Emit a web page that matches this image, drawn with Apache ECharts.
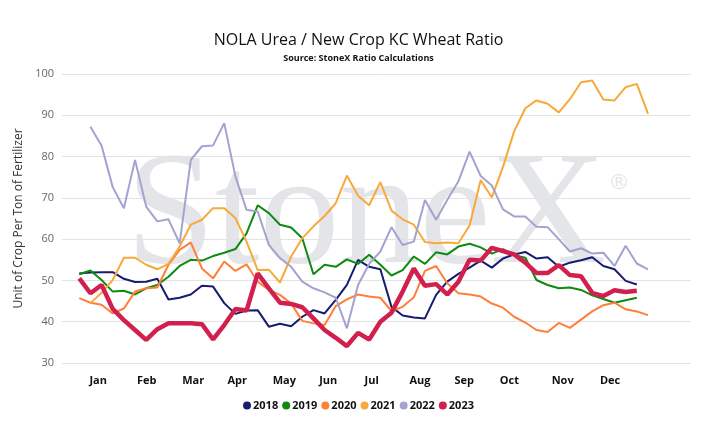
<!DOCTYPE html>
<html>
<head>
<meta charset="utf-8">
<script src="https://cdn.jsdelivr.net/npm/echarts@6.0.0/dist/echarts.min.js"></script>
<style>
  html, body { margin: 0; padding: 0; background: #fff; }
  #main { width: 717px; height: 430px; }
</style>
</head>
<body>
<div id="main"></div>
<script>
// weekly ratios, index = week slot on the shared x axis (null = no value that week)
const y2018 = [51.7, 51.9, 52.0, 52.0, 50.4, 49.6, 49.7, 50.4, 45.4, 45.8, 46.6, 48.7, 48.5, 44.5, 41.9, 42.7, 42.8, 38.8, 39.5, 38.9,
  41.2, 42.8, 42.0, 45.3, 48.9, 55.0, 53.3, 52.7, 43.6, 41.5, 41.0, 40.8, 46.5, 49.7, 51.6, 53.1, 54.8, 53.1, 55.3, 56.3,
  56.9, 55.3, 55.6, 53.3, 54.3, 54.9, 55.6, 53.5, 52.7, 49.9, 49.0];
const y2019 = [51.5, 52.4, 50.1, 47.3, 47.5, 46.6, 48.1, 48.9, 50.9, 53.5, 55.0, 54.8, 55.9, 56.7, 57.6, 61.4, 68.2, 66.3, 63.5, 62.8,
  60.2, 51.5, 53.8, 53.3, 55.1, 54.0, 56.2, 53.8, 51.2, 52.5, 55.8, 54.0, 56.8, 56.3, 58.2, 58.9, 58.0, 56.5, 57.6, 56.1,
  55.5, 50.1, 48.9, 48.1, 48.3, 47.7, 46.4, 45.5, 44.6, 45.2, 45.8];
const y2020 = [45.7, 44.6, 44.1, 42.0, 43.2, 47.3, 48.1, 48.3, 53.8, 57.4, 59.2, 52.9, 50.5, 54.6, 52.3, 53.9, 49.7, 47.7, 46.5, 44.4,
  40.2, 39.6, 39.2, 43.8, 45.4, 46.6, 46.1, 45.8, 42.6, 43.6, 45.9, 52.3, 53.5, 49.3, 46.9, 46.6, 46.1, 44.4, 43.4, 41.2,
  39.8, 38.0, 37.5, 39.7, 38.5, 40.5, 42.5, 44.0, 44.6, 43.0, 42.5, 41.6];
const y2021 = [null, 44.5, 47.0, 50.1, 55.5, 55.5, 53.8, 52.7, 54.0, 58.2, 63.5, 64.7, 67.5, 67.5, 65.1, 59.4, 52.5, 52.6, 49.5, 55.8,
  60.2, 63.1, 65.6, 68.7, 75.4, 70.5, 68.2, 73.8, 66.9, 64.8, 63.5, 59.3, 59.0, 59.2, 59.0, 63.3, 74.3, 70.1, 77.5, 86.1,
  91.7, 93.6, 92.8, 90.7, 93.9, 98.0, 98.4, 93.8, 93.6, 96.8, 97.6, 90.4];
const y2022 = [null, 87.2, 82.6, 72.6, 67.5, 79.2, 67.9, 64.3, 64.8, 59.0, 79.2, 82.5, 82.7, 88.1, 75.2, 67.1, 66.7, 58.6, 55.4, 53.3,
  49.7, 48.1, 47.1, 45.8, 38.4, 48.9, 54.0, 57.0, 62.9, 58.6, 59.4, 69.5, 64.7, 69.5, 74.0, 81.2, 75.3, 73.0, 67.2, 65.5,
  65.5, 63.0, 62.9, 60.0, 57.0, 57.8, 56.5, 56.7, 53.5, 58.4, 54.1, 52.7];
const y2023 = [50.5, 46.9, 48.9, 43.1, 40.4, 38.0, 35.6, 38.2, 39.6, 39.6, 39.6, 39.4, 35.7, 39.2, 43.1, 42.7, 51.7, 48.1, 44.6, 44.3,
  43.5, 40.8, 38.0, 36.1, 34.1, 37.3, 35.7, 40.0, 42.2, 47.3, 52.9, 48.7, 49.1, 46.6, 49.7, 55.0, 54.8, 57.9, 57.1, 56.3,
  54.3, 51.8, 51.8, 53.7, 51.3, 51.0, 47.0, 46.2, 47.6, 47.2, 47.5];

const years = ['2018', '2019', '2020', '2021', '2022', '2023'];
const months = ['Jan', 'Feb', 'Mar', 'Apr', 'May', 'Jun', 'Jul', 'Aug', 'Sep', 'Oct', 'Nov', 'Dec'];
// where each month label sits, in week slots
const monthWeeks = [1.70, 6.04, 10.22, 14.17, 18.39, 22.33, 26.22, 30.56, 34.53, 38.57, 43.35, 47.6];

const chart = echarts.init(document.getElementById('main'));
const colors = ['#161c6e', '#0e8a10', '#ff7f3a', '#f7aa3a', '#a2a4cf', '#d1204e'];
const allData = [y2018, y2019, y2020, y2021, y2022, y2023];

function pairs(arr) {
    let out = [];
    arr.forEach(function (v, i) {
        if (v !== null) out.push([i, v]);
    });
    return out;
}

let series = [];
years.forEach(function (name, k) {
    series.push({
        name: name,
        type: 'line',
        showSymbol: false,
        symbol: 'none',
        lineStyle: { width: k === 5 ? 4.5 : 2, color: colors[k] },
        itemStyle: { color: colors[k] },
        data: pairs(allData[k]),
        z: 2 + k
    });
});

const option = {
    color: colors,
    animation: false,
    textStyle: { fontFamily: 'Open Sans' },
    title: [
        {
            text: 'NOLA Urea / New Crop KC Wheat Ratio',
            left: 'center',
            top: 27,
            textStyle: { fontSize: 16, fontWeight: 'normal', color: '#111', fontFamily: 'Open Sans' }
        },
        {
            text: 'Source: StoneX Ratio Calculations',
            left: 'center',
            top: 49,
            textStyle: { fontSize: 9, fontWeight: 'bold', color: '#111', fontFamily: 'Open Sans' }
        }
    ],
    graphic: [
        {
            type: 'text',
            z: -10,
            silent: true,
            style: {
                x: 126, y: 220,
                text: 'StoneX',
                font: '160px "Liberation Serif"',
                fill: '#e4e5e9',
                verticalAlign: 'middle'
            }
        },
        {
            type: 'text',
            z: -10,
            silent: true,
            style: {
                x: 608, y: 183,
                text: '®',
                font: '22px "DejaVu Sans"',
                fill: '#e4e5e9',
                verticalAlign: 'middle'
            }
        }
    ],
    legend: {
        data: years,
        bottom: 14,
        left: 'center',
        icon: 'circle',
        itemWidth: 8,
        itemHeight: 8,
        itemGap: 4,
        textStyle: { fontSize: 11, fontWeight: 'bold', color: '#111', fontFamily: 'Open Sans', padding: [0, 0, 0, -3] }
    },
    grid: {
        left: 62,
        right: 26,
        top: 74,
        bottom: 67
    },
    xAxis: {
        type: 'value',
        min: -1.55,
        max: 54.86,
        axisLine: { show: false },
        axisTick: { show: false },
        splitLine: { show: false },
        axisLabel: {
            customValues: monthWeeks,
            margin: 12,
            fontSize: 11,
            fontWeight: 'bold',
            color: '#111',
            formatter: function (v) {
                let i = monthWeeks.indexOf(v);
                return i >= 0 ? months[i] : '';
            }
        }
    },
    yAxis: {
        type: 'value',
        min: 30,
        max: 100,
        interval: 10,
        name: 'Unit of Crop Per Ton of Fertilizer',
        nameLocation: 'middle',
        nameGap: 37,
        nameTextStyle: { fontSize: 12, color: '#333', fontFamily: 'Open Sans' },
        axisLine: { show: false },
        axisTick: { show: false },
        axisLabel: { fontSize: 11, color: '#666', margin: 8 },
        splitLine: { lineStyle: { color: '#e3e3e3', width: 1 } }
    },
    series: series
};

option && chart.setOption(option);
</script>
</body>
</html>
